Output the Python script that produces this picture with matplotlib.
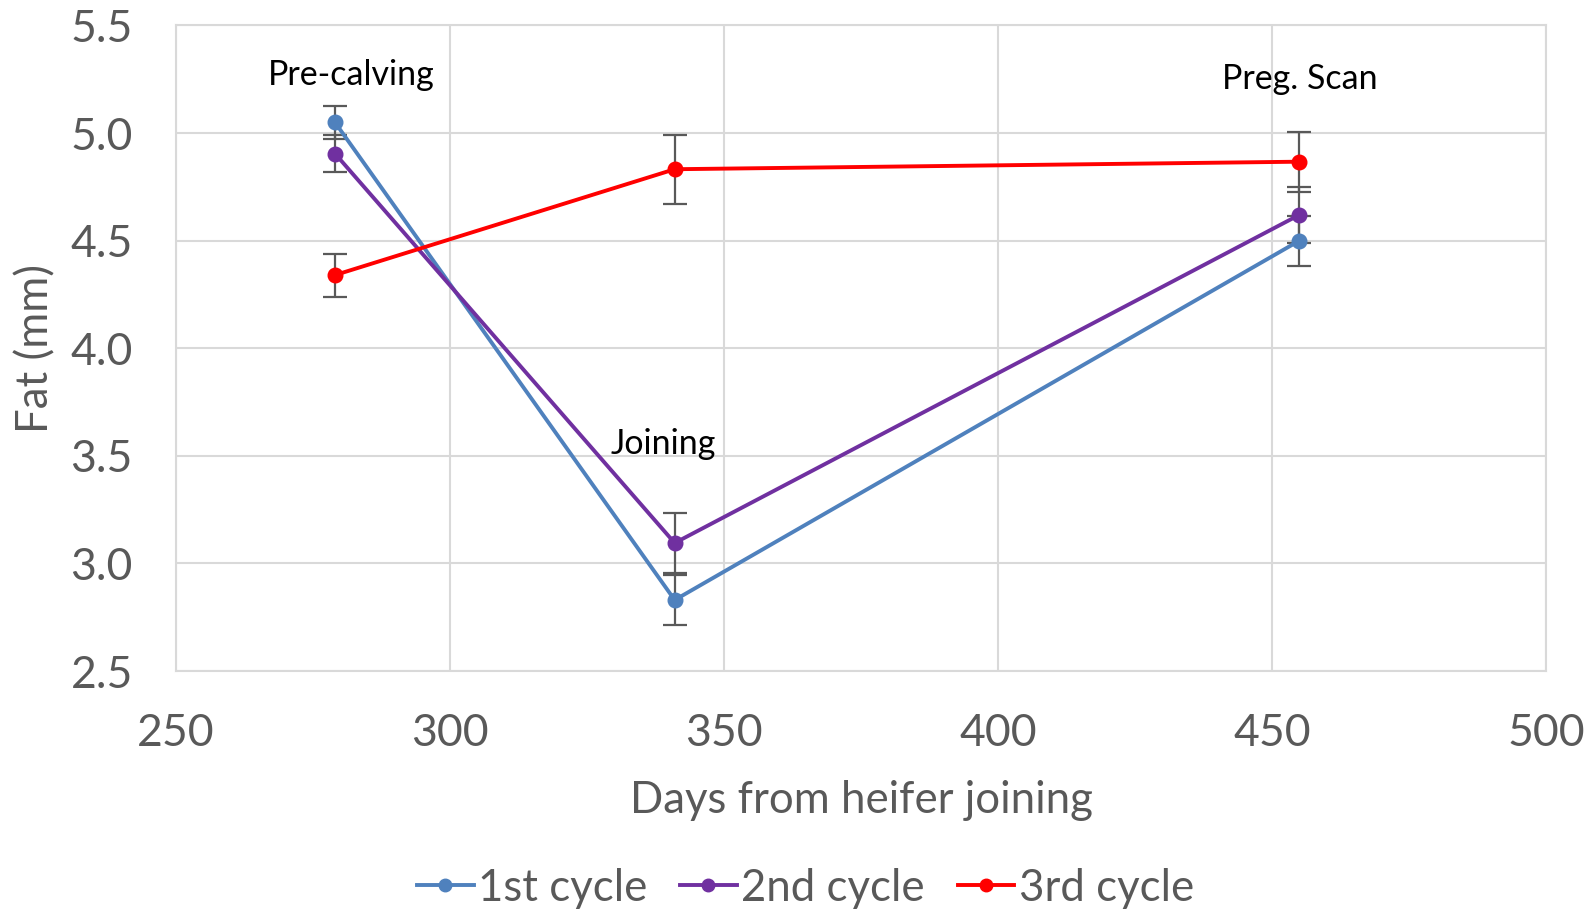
import matplotlib
matplotlib.use("Agg")
import matplotlib.pyplot as plt
from matplotlib.lines import Line2D

days = [279, 341, 455]
c1 = [5.05, 2.83, 4.50]
c1_err = [0.077, 0.118, 0.116]
c2 = [4.905, 3.095, 4.62]
c2_err = [0.088, 0.14, 0.13]
c3 = [4.34, 4.832, 4.867]
c3_err = [0.10, 0.16, 0.14]
labels = ["1st cycle", "2nd cycle", "3rd cycle"]
colors = ["#4F81BD", "#7030A0", "#FF0000"]
annotations = [("Pre-calving", 282, 5.27), ("Joining", 339, 3.556), ("Preg. Scan", 455, 5.25)]

plt.rcParams['font.family'] = ['Lato', 'DejaVu Sans']
fig = plt.figure(figsize=(15.9, 9.1), dpi=100)
ax = fig.add_axes([0.1107, 0.2626, 0.8616, 0.7094])

for y, e, lab, col in zip([c1, c2, c3], [c1_err, c2_err, c3_err], labels, colors):
    ax.errorbar(days, y, yerr=e, color=col, lw=2.8, marker='o', ms=10.5,
                ecolor='#595959', elinewidth=1.6, capsize=8.5, capthick=1.6,
                label=lab, zorder=3)

for txt, x, y in annotations:
    ax.text(x, y, txt, ha='center', va='center', fontsize=24.5, color='black')

ax.set_xlim(250, 500)
ax.set_ylim(2.5, 5.5)
ax.set_xticks([250, 300, 350, 400, 450, 500])
yt = [2.5, 3.0, 3.5, 4.0, 4.5, 5.0, 5.5]
ax.set_yticks(yt)
ax.set_yticklabels([f"{v:.1f}" for v in yt])
ax.grid(True, color='#D9D9D9', lw=1.5)
ax.set_axisbelow(True)
for s in ax.spines.values():
    s.set_color('#D9D9D9')
    s.set_linewidth(1.5)
ax.tick_params(length=0, labelsize=32, colors='#595959')
ax.tick_params(axis='x', pad=30)
ax.tick_params(axis='y', pad=31)
ax.set_xlabel("Days from heifer joining", fontsize=31.5, color='#595959')
ax.set_ylabel("Fat (mm)", fontsize=31.5, color='#595959')
ax.xaxis.label.set_va('center')
ax.yaxis.label.set_va('center')
ax.xaxis.set_label_coords(0.5, -0.201)
ax.yaxis.set_label_coords(-0.102, 0.5)

handles = [Line2D([], [], color=c, lw=2.8, marker='o', ms=9) for c in colors]
leg = fig.legend(handles, labels, loc='center', bbox_to_anchor=(0.5065, 0.024), ncol=3,
                 frameon=False, fontsize=31.5, handlelength=1.3, handletextpad=0.1,
                 columnspacing=0.75)
for t in leg.get_texts():
    t.set_color('#595959')

fig.savefig("out.png", dpi=100)
